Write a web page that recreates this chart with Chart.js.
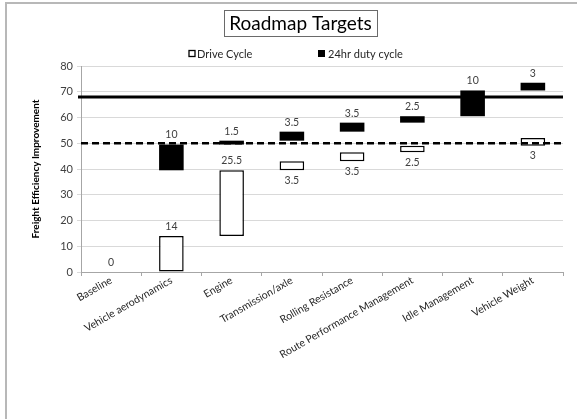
<!DOCTYPE html>
<html>
<head>
<meta charset="utf-8">
<script src="https://cdn.jsdelivr.net/npm/chart.js@4.4.1/dist/chart.umd.min.js"></script>
<style>
  html, body { margin: 0; padding: 0; background: #fff; overflow: hidden; }
  #frame { position: absolute; left: 5px; top: 2px; width: 640px; height: 480px;
           border-left: 2px solid #b8b8b8; border-top: 2px solid #b8b8b8; }
  #wrap { position: absolute; left: 0; top: 0; width: 577px; height: 419px; }
</style>
</head>
<body>
<div id="frame"></div>
<div id="wrap"><canvas id="chart" width="577" height="419"></canvas></div>
<script>
// Roadmap waterfall: each measure adds a step on top of the previous one.
const categories = [
  'Baseline', 'Vehicle aerodynamics', 'Engine', 'Transmission/axle',
  'Rolling Resistance', 'Route Performance Management', 'Idle Management', 'Vehicle Weight'
];

// Drive Cycle steps (start level and gain)
const driveStart = [0, 0, 14, 39.5, 43, 46.5, null, 49];
const driveGain  = [0, 14, 25.5, 3.5, 3.5, 2.5, null, 3];

// 24hr duty cycle steps (start level and gain)
const dutyStart = [null, 39.5, 49.5, 51, 54.5, 58, 60.5, 70.5];
const dutyGain  = [null, 10, 1.5, 3.5, 3.5, 2.5, 10, 3];

// Value axis
const yMin = 0, yMax = 80, yStep = 10;

// Reference levels
const driveCycleLevel = 50;   // dashed
const dutyCycleTarget = 68;   // solid

const FONT = 'Lato, "Open Sans", sans-serif';

function floating(start, gain) {
  return start.map((s, i) => (s === null || gain[i] === null) ? null : [s, s + gain[i]]);
}

// Which side of each Drive Cycle box carries its value
const driveLabelSide = ['above', 'above', 'above', 'below', 'below', 'below', null, 'below'];

const titleAndLegend = {
  id: 'titleAndLegend',
  afterDraw(chart) {
    const ctx = chart.ctx;
    ctx.save();
    // boxed title
    ctx.font = '19px ' + FONT;
    ctx.fillStyle = '#000';
    ctx.textAlign = 'center';
    ctx.textBaseline = 'middle';
    const title = 'Roadmap Targets';
    const tx = 300.5, ty = 23.5;
    const tw = ctx.measureText(title).width;
    ctx.fillText(title, tx, ty);
    ctx.strokeStyle = '#6a6a6a';
    ctx.lineWidth = 1;
    ctx.strokeRect(Math.round(tx - tw / 2 - 5) + 0.5, 10.5, Math.round(tw + 10), 26);

    // legend
    ctx.font = '11px ' + FONT;
    ctx.textAlign = 'left';
    ctx.strokeStyle = '#000';
    ctx.lineWidth = 1.3;
    ctx.fillStyle = '#fff';
    ctx.fillRect(189, 50.5, 6, 6);
    ctx.strokeRect(189, 50.5, 6, 6);
    ctx.fillStyle = '#262626';
    ctx.fillText('Drive Cycle', 197, 54);
    ctx.fillStyle = '#000';
    ctx.fillRect(318, 50, 7, 7);
    ctx.fillStyle = '#262626';
    ctx.fillText('24hr duty cycle', 328, 54);
    ctx.restore();
  }
};

const referenceLines = {
  id: 'referenceLines',
  afterDatasetsDraw(chart) {
    const { ctx, chartArea: a, scales: { y } } = chart;
    ctx.save();
    ctx.strokeStyle = '#000';
    ctx.lineWidth = 2.5;
    ctx.setLineDash([7, 4]);
    const yd = y.getPixelForValue(driveCycleLevel);
    ctx.beginPath(); ctx.moveTo(a.left, yd); ctx.lineTo(a.right, yd); ctx.stroke();
    ctx.setLineDash([]);
    ctx.lineWidth = 3;
    const ys = y.getPixelForValue(dutyCycleTarget);
    ctx.beginPath(); ctx.moveTo(a.left - 3, ys); ctx.lineTo(a.right, ys); ctx.stroke();
    ctx.restore();
  }
};

const stepLabels = {
  id: 'stepLabels',
  afterDatasetsDraw(chart) {
    const ctx = chart.ctx;
    ctx.save();
    ctx.font = '10.5px ' + FONT;
    ctx.fillStyle = '#404040';
    ctx.textAlign = 'center';
    ctx.textBaseline = 'middle';
    const gains = [driveGain, dutyGain];
    chart.data.datasets.forEach((ds, di) => {
      chart.getDatasetMeta(di).data.forEach((bar, i) => {
        const g = gains[di][i];
        if (g === null || g === undefined) return;
        const top = Math.min(bar.y, bar.base);
        const bottom = Math.max(bar.y, bar.base);
        const side = di === 0 ? driveLabelSide[i] : 'above';
        const ly = side === 'below' ? bottom + 10 : top - 9.5;
        ctx.fillText(String(g), bar.x, ly);
      });
    });
    ctx.restore();
  }
};

new Chart(document.getElementById('chart'), {
  type: 'bar',
  data: {
    labels: categories,
    datasets: [
      {
        label: 'Drive Cycle',
        data: floating(driveStart, driveGain),
        backgroundColor: '#ffffff',
        borderColor: '#000000',
        borderWidth: (c) => (driveGain[c.dataIndex] ? 1.5 : 0),
        borderSkipped: false,
        grouped: false,
        categoryPercentage: 0.8,
        barPercentage: 0.51
      },
      {
        label: '24hr duty cycle',
        data: floating(dutyStart, dutyGain),
        backgroundColor: '#000000',
        borderColor: '#000000',
        borderWidth: 0,
        borderSkipped: false,
        grouped: false,
        categoryPercentage: 0.8,
        barPercentage: 0.51
      }
    ]
  },
  options: {
    responsive: false,
    animation: false,
    devicePixelRatio: 1,
    layout: { padding: { left: 0, top: 66, right: 14, bottom: 0 } },
    plugins: {
      legend: { display: false },
      title: { display: false },
      tooltip: { enabled: false }
    },
    scales: {
      x: {
        offset: true,
        grid: { drawOnChartArea: false, offset: true, tickLength: 4, color: '#a6a6a6' },
        border: { color: '#a6a6a6' },
        ticks: {
          autoSkip: false, minRotation: 30, maxRotation: 30, padding: -2,
          color: '#262626', font: { family: FONT, size: 10.5 }
        },
        afterFit(s) { s.height = 147; }
      },
      y: {
        min: yMin, max: yMax,
        ticks: { stepSize: yStep, padding: 4, color: '#404040', font: { family: FONT, size: 11 } },
        grid: { color: '#d9d9d9', tickLength: 4 },
        border: { color: '#a6a6a6' },
        title: {
          display: true, text: 'Freight Efficiency Improvement', color: '#000',
          font: { family: FONT, size: 10, weight: 'bold' }, padding: { top: 30, bottom: 0 }
        },
        afterFit(s) { s.width = 81; }
      }
    }
  },
  plugins: [referenceLines, stepLabels, titleAndLegend]
});
</script>
</body>
</html>
